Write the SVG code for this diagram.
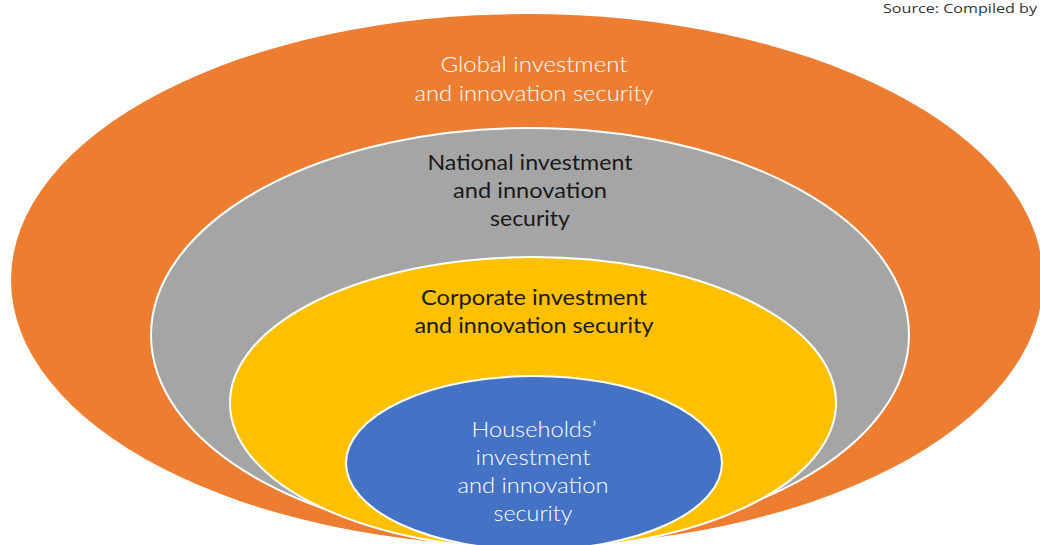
<svg xmlns="http://www.w3.org/2000/svg" width="1040" height="545" viewBox="0 0 1040 545">
  <style>
    .ring { stroke: #ffffff; stroke-width: 2; }
    .lbl { font-family: Lato, "Open Sans", "Liberation Sans", sans-serif; font-size: 22px; text-anchor: middle; }
    .light { font-weight: 300; fill: #ffffff; }
    .dark { font-weight: 400; fill: #1a1a1a; }
    .src { font-family: "Open Sans", "Liberation Sans", sans-serif; font-size: 13.5px; fill: #333333; }
  </style>
  <rect width="1040" height="545" fill="#ffffff"/>
  <g id="global">
    <ellipse cx="527" cy="280" rx="516" ry="266" fill="#ED7D31"/>
    <text class="lbl light" x="534" y="72" textLength="187" lengthAdjust="spacingAndGlyphs">Global investment</text>
    <text class="lbl light" x="534" y="101" textLength="239" lengthAdjust="spacingAndGlyphs">and innovation security</text>
  </g>
  <g id="national">
    <ellipse class="ring" cx="530" cy="335" rx="379" ry="207" fill="#A5A5A5"/>
    <text class="lbl dark" x="530" y="170" textLength="205" lengthAdjust="spacingAndGlyphs">National investment</text>
    <text class="lbl dark" x="530" y="198" textLength="154" lengthAdjust="spacingAndGlyphs">and innovation</text>
    <text class="lbl dark" x="530" y="226" textLength="80" lengthAdjust="spacingAndGlyphs">security</text>
  </g>
  <g id="corporate">
    <ellipse class="ring" cx="533" cy="403" rx="303" ry="146" fill="#FFC000"/>
    <text class="lbl dark" x="534" y="305" textLength="226" lengthAdjust="spacingAndGlyphs">Corporate investment</text>
    <text class="lbl dark" x="534" y="333" textLength="239" lengthAdjust="spacingAndGlyphs">and innovation security</text>
  </g>
  <g id="households">
    <ellipse class="ring" cx="534" cy="463" rx="188" ry="87" fill="#4472C4"/>
    <text class="lbl light" x="534" y="437" textLength="125" lengthAdjust="spacingAndGlyphs">Households’</text>
    <text class="lbl light" x="533" y="465" textLength="115" lengthAdjust="spacingAndGlyphs">investment</text>
    <text class="lbl light" x="533" y="493" textLength="151" lengthAdjust="spacingAndGlyphs">and innovation</text>
    <text class="lbl light" x="533" y="521" textLength="79" lengthAdjust="spacingAndGlyphs">security</text>
  </g>
  <g id="connectors"/>
  <text class="src" x="883" y="13" textLength="154" lengthAdjust="spacingAndGlyphs">Source: Compiled by</text>
</svg>
